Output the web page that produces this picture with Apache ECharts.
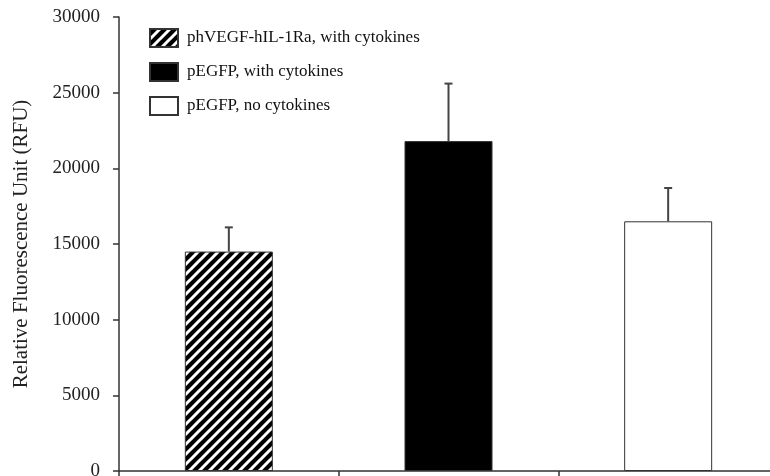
<!DOCTYPE html>
<html>
<head>
<meta charset="utf-8">
<script src="https://cdn.jsdelivr.net/npm/echarts@6/dist/echarts.min.js"></script>
<style>
  html, body { margin: 0; padding: 0; background: #fff; }
  #chart { width: 770px; height: 476px; }
</style>
</head>
<body>
<div id="chart"></div>
<script>
// Groups, their mean fluorescence and the upper error (SD)
const groups = ['phVEGF-hIL-1Ra, with cytokines', 'pEGFP, with cytokines', 'pEGFP, no cytokines'];
const means = [14500, 21800, 16500];
const errors = [1600, 3800, 2200];
const yTicks = { min: 0, max: 30000, step: 5000 };

const FONT = '"Liberation Serif", "DejaVu Serif", "Times New Roman", serif';
const INK = '#111';

// Black tile with white "/" stripes for the hatched bar
function hatchTile() {
  const s = 10;
  const c = document.createElement('canvas');
  c.width = s; c.height = s;
  const g = c.getContext('2d');
  g.fillStyle = '#000';
  g.fillRect(0, 0, s, s);
  g.strokeStyle = '#fff';
  g.lineWidth = 3;
  g.beginPath();
  g.moveTo(-s, s); g.lineTo(s, -s);
  g.moveTo(0, 2 * s); g.lineTo(2 * s, 0);
  g.moveTo(-s, 2 * s); g.lineTo(2 * s, -s);
  g.stroke();
  return c;
}

const fills = [
  { image: hatchTile(), repeat: 'repeat' },
  '#000',
  '#fff'
];

// One series per group so the legend shows each fill; other slots stay empty
const barSeries = groups.map((name, i) => ({
  name: name,
  type: 'bar',
  barWidth: 88,
  barGap: '-100%',
  data: means.map((v, j) => (j === i ? v : '-')),
  itemStyle: { color: fills[i], borderColor: '#333', borderWidth: 1 },
  emphasis: { disabled: true },
  z: 2
}));

// Upper error bars with a short cap
const errorSeries = {
  type: 'custom',
  name: 'err',
  data: means.map((m, i) => [i, m, m + errors[i]]),
  renderItem: function (params, api) {
    const base = api.coord([api.value(0), api.value(1)]);
    const top = api.coord([api.value(0), api.value(2)]);
    const cap = 4;
    const style = { stroke: '#444', lineWidth: 2 };
    return {
      type: 'group',
      children: [
        { type: 'line', shape: { x1: base[0], y1: base[1], x2: top[0], y2: top[1] }, style: style },
        { type: 'line', shape: { x1: top[0] - cap, y1: top[1], x2: top[0] + cap, y2: top[1] }, style: style }
      ]
    };
  },
  z: 3,
  silent: true
};

const chart = echarts.init(document.getElementById('chart'), null, { renderer: 'canvas' });
chart.setOption({
  animation: false,
  backgroundColor: '#fff',
  grid: { left: 119, top: 17, width: 659, height: 454, outerBoundsMode: 'none', containLabel: false },
  legend: {
    data: groups,
    orient: 'vertical',
    left: 144,
    top: 23,
    itemWidth: 28,
    itemHeight: 18,
    itemGap: 14,
    icon: 'rect',
    selectedMode: false,
    textStyle: { fontFamily: FONT, fontSize: 17, color: INK, padding: [0, 0, 0, 4] }
  },
  xAxis: {
    type: 'category',
    data: groups,
    axisLine: { lineStyle: { color: '#333', width: 1.5 } },
    axisTick: { show: true, interval: 0, alignWithLabel: false, length: 5, lineStyle: { color: '#333', width: 1.5 } },
    axisLabel: { show: false, interval: 0 },
    splitLine: { show: false }
  },
  yAxis: {
    type: 'value',
    min: yTicks.min,
    max: yTicks.max,
    interval: yTicks.step,
    name: 'Relative Fluorescence Unit (RFU)',
    nameLocation: 'middle',
    nameGap: 87,
    nameTextStyle: { fontFamily: FONT, fontSize: 21, color: '#222' },
    axisLine: { show: true, lineStyle: { color: '#333', width: 1.5 } },
    axisTick: { show: true, length: 6, lineStyle: { color: '#333', width: 1.5 } },
    axisLabel: { margin: 19, fontFamily: FONT, fontSize: 19, color: '#222', formatter: (v) => String(v) },
    splitLine: { show: false }
  },
  series: barSeries.concat([errorSeries])
});
</script>
</body>
</html>
